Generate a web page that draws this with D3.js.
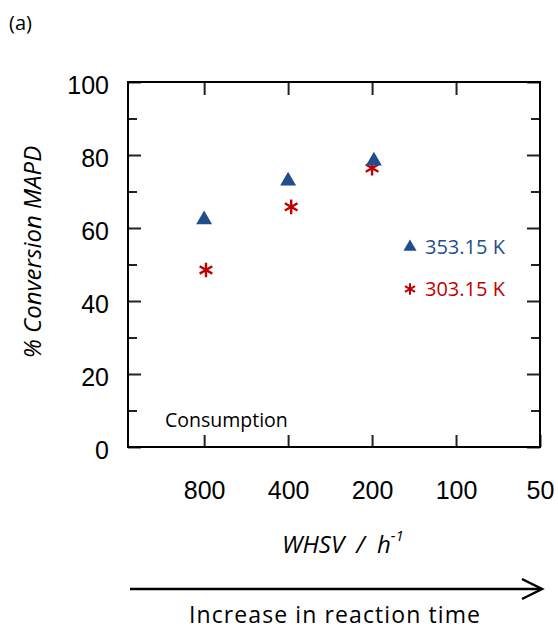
<!DOCTYPE html>
<html>
<head>
<meta charset="utf-8">
<script src="https://cdn.jsdelivr.net/npm/d3@7"></script>
<style>
  html, body { margin: 0; padding: 0; background: #fff; }
  svg { display: block; }
</style>
</head>
<body>
<svg id="chart" width="558" height="630"></svg>
<script>
// WHSV values (h^-1) shown on the reversed log axis
const whsvTicks = [800, 400, 200, 100, 50];
const yMajorTicks = [0, 20, 40, 60, 80, 100];
const yMinorTicks = [10, 30, 50, 70, 90];

// 353.15 K series
const hotLabel = "353.15 K";
const hotWhsv = [800, 400, 197];
const hotConv = [62.3, 72.9, 78.4];

// 303.15 K series
const coldLabel = "303.15 K";
const coldWhsv = [788, 390, 200];
const coldConv = [48.5, 65.8, 76.4];

const blue = "#1f4e8a";
const red = "#c00000";

const svg = d3.select("#chart");
const margin = { left: 128, top: 82, right: 18, bottom: 183 };
const W = 558 - margin.left - margin.right;
const H = 630 - margin.top - margin.bottom;

const x = d3.scaleLog().domain([1500, 50]).range([0, W]);
const y = d3.scaleLinear().domain([0, 100]).range([H, 0]);

const g = svg.append("g").attr("transform", `translate(${margin.left},${margin.top})`);

const tickFont = "'Liberation Sans', Arial, sans-serif";
const textFont = "'Open Sans', 'DejaVu Sans', sans-serif";

function styleAxis(sel) {
  sel.select(".domain").remove();
  sel.selectAll(".tick line").attr("stroke", "#222").attr("stroke-width", 2);
  sel.selectAll(".tick text")
    .attr("font-family", tickFont)
    .attr("font-size", 25)
    .attr("fill", "#000");
}

// left axis: labelled majors, short minors
g.append("g")
  .call(d3.axisLeft(y).tickValues(yMajorTicks).tickSize(-13).tickPadding(19))
  .call(styleAxis)
  .call(s => s.selectAll(".tick text").attr("dy", "0.45em"));
g.append("g")
  .call(d3.axisLeft(y).tickValues(yMinorTicks).tickSize(-9).tickFormat(""))
  .call(styleAxis);

// right axis: ticks only
g.append("g").attr("transform", `translate(${W},0)`)
  .call(d3.axisRight(y).tickValues(yMajorTicks).tickSize(-13).tickFormat(""))
  .call(styleAxis);
g.append("g").attr("transform", `translate(${W},0)`)
  .call(d3.axisRight(y).tickValues(yMinorTicks).tickSize(-9).tickFormat(""))
  .call(styleAxis);

// bottom axis with WHSV labels
g.append("g").attr("transform", `translate(0,${H})`)
  .call(d3.axisBottom(x).tickValues(whsvTicks).tickSize(-12).tickPadding(34).tickFormat(d3.format("d")))
  .call(styleAxis);

// top axis: ticks only
g.append("g")
  .call(d3.axisTop(x).tickValues(whsvTicks.slice(0, 4)).tickSize(-13).tickFormat(""))
  .call(styleAxis);

// plot frame
g.append("rect")
  .attr("x", 0).attr("y", 0).attr("width", W).attr("height", H)
  .attr("fill", "none").attr("stroke", "#000").attr("stroke-width", 2);

// markers
const tri = d3.symbol().type(d3.symbolTriangle).size(110);
const star = d3.symbol().type(d3.symbolAsterisk).size(150);

g.append("g").selectAll("path")
  .data(coldWhsv.map((w, i) => [w, coldConv[i]]))
  .join("path")
  .attr("d", star)
  .attr("transform", d => `translate(${x(d[0])},${y(d[1])})`)
  .attr("fill", "none").attr("stroke", red).attr("stroke-width", 2.4);

g.append("g").selectAll("path")
  .data(hotWhsv.map((w, i) => [w, hotConv[i]]))
  .join("path")
  .attr("d", tri)
  .attr("transform", d => `translate(${x(d[0])},${y(d[1])})`)
  .attr("fill", blue);

// legend
const legend = svg.append("g");
legend.append("path").attr("d", d3.symbol().type(d3.symbolTriangle).size(75)())
  .attr("transform", "translate(410,247)").attr("fill", blue);
legend.append("text").attr("x", 425).attr("y", 254)
  .attr("font-family", textFont).attr("font-size", 20).attr("fill", blue).text(hotLabel);
legend.append("path").attr("d", d3.symbol().type(d3.symbolAsterisk).size(95)())
  .attr("transform", "translate(410,289)")
  .attr("fill", "none").attr("stroke", red).attr("stroke-width", 2);
legend.append("text").attr("x", 425).attr("y", 296)
  .attr("font-family", textFont).attr("font-size", 20).attr("fill", red).text(coldLabel);

// in-plot annotation
svg.append("text").attr("x", 165).attr("y", 427)
  .attr("font-family", textFont).attr("font-size", 19.5).attr("fill", "#000")
  .text("Consumption");

// axis titles
svg.append("text")
  .attr("transform", "translate(41,252) rotate(-90)")
  .attr("text-anchor", "middle")
  .attr("font-family", textFont).attr("font-style", "italic").attr("font-size", 24)
  .text("% Conversion MAPD");

const xt = svg.append("text")
  .attr("x", 282).attr("y", 553)
  .attr("font-family", textFont).attr("font-style", "italic").attr("font-size", 24)
  .attr("word-spacing", 6);
xt.append("tspan").text("WHSV / h");
xt.append("tspan").attr("dy", -12).attr("font-size", 15).text("-1");

// panel tag
svg.append("text").attr("x", 9).attr("y", 30)
  .attr("font-family", textFont).attr("font-size", 20).text("(a)");

// reaction-time arrow
svg.append("line").attr("x1", 130).attr("x2", 541).attr("y1", 589).attr("y2", 589)
  .attr("stroke", "#000").attr("stroke-width", 2.5);
svg.append("path").attr("d", "M522,579L542,589L522,599")
  .attr("fill", "none").attr("stroke", "#000").attr("stroke-width", 2.5);
svg.append("text").attr("x", 335).attr("y", 623).attr("text-anchor", "middle")
  .attr("font-family", textFont).attr("font-size", 23).attr("letter-spacing", 1.1)
  .text("Increase in reaction time");
</script>
</body>
</html>
